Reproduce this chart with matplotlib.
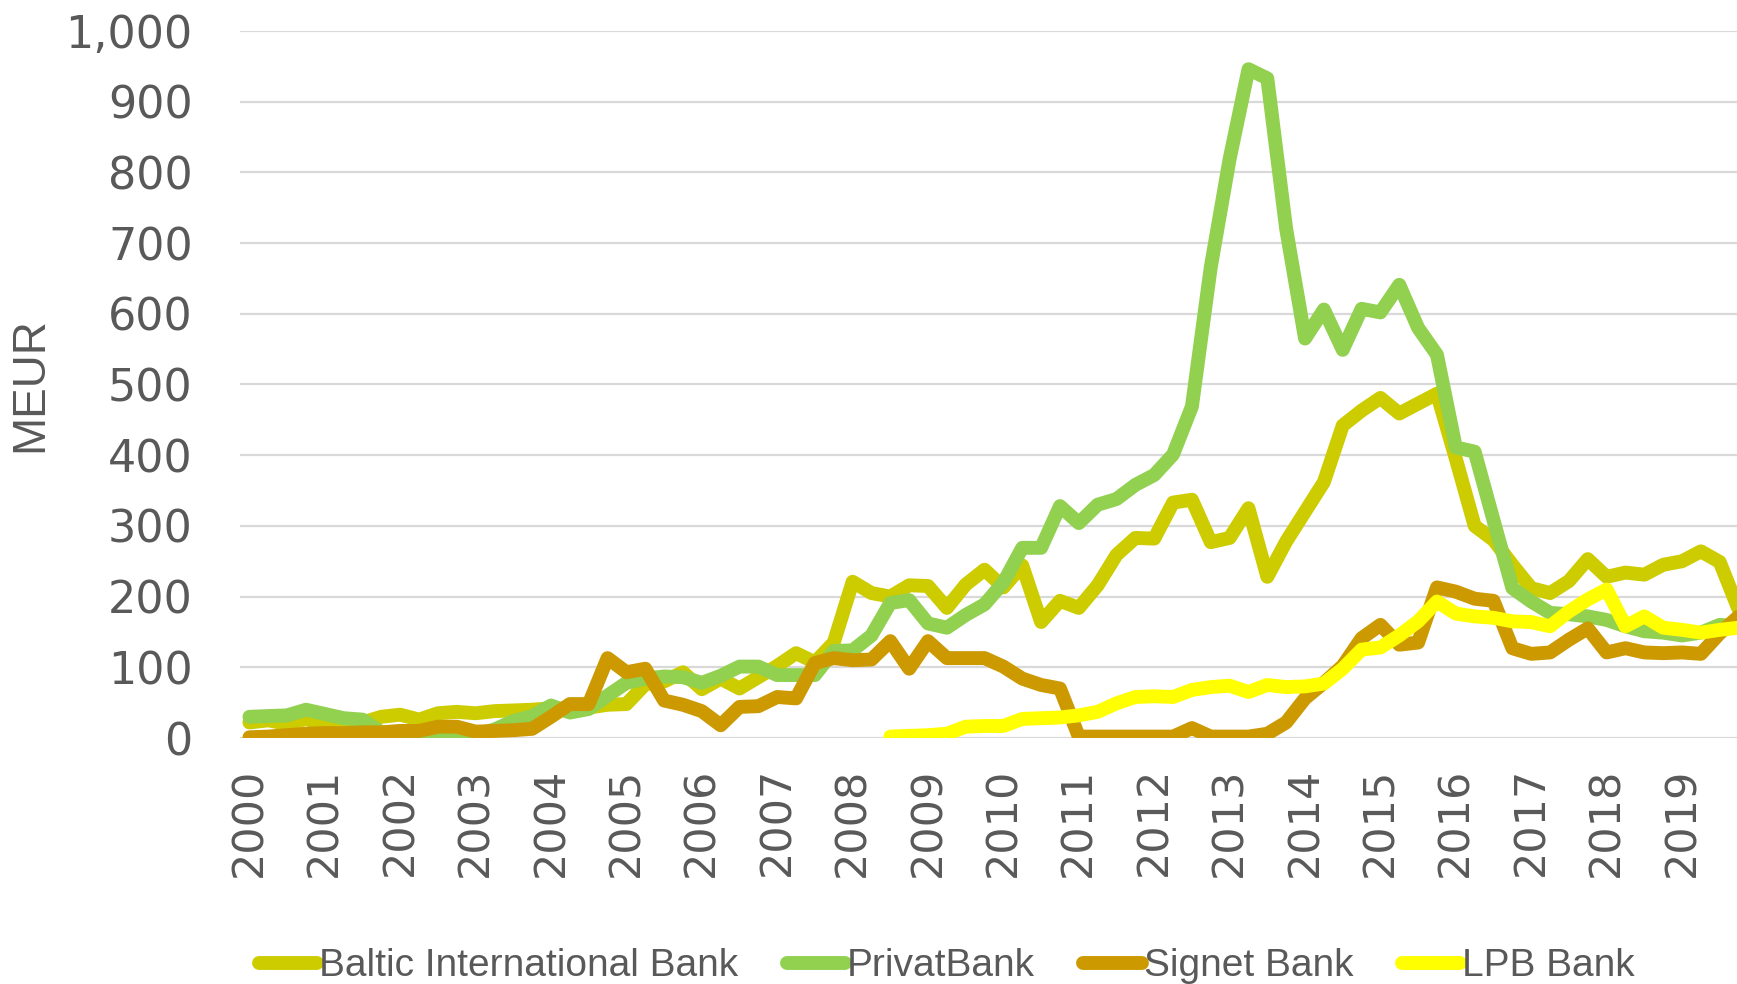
import numpy as np
import matplotlib
matplotlib.use('Agg')
import matplotlib.pyplot as plt
from matplotlib.font_manager import FontProperties

# quarterly values, 2000Q1 .. 2019Q4 (MEUR)
years = list(range(2000, 2020))

baltic = [22, 25, 20, 27, 18, 17, 22, 30, 33, 26, 35, 37, 35, 38, 39, 40,
          42, 41, 43, 47, 48, 76, 80, 93, 69, 84, 70, 86, 102, 120, 107, 135,
          221, 205, 200, 216, 215, 184, 217, 238, 213, 244, 164, 194, 184, 216, 259, 283,
          282, 333, 337, 277, 283, 325, 228, 278, 320, 362, 442, 463, 481, 459, 473, 487,
          395, 300, 280, 245, 212, 205, 222, 253, 228, 234, 231, 245, 250, 264, 249, 182]

privat = [30, 31, 32, 40, 34, 28, 26, 8, 4, 3, 5, 6, 5, 12, 24, 31,
          46, 36, 41, 60, 78, 84, 87, 86, 78, 88, 101, 101, 89, 89, 89, 123,
          124, 145, 191, 195, 162, 156, 174, 189, 220, 269, 269, 328, 304, 330, 338, 358,
          372, 401, 469, 666, 819, 946, 933, 720, 565, 606, 549, 607, 602, 641, 580, 542,
          411, 405, 308, 212, 193, 177, 175, 172, 167, 158, 151, 149, 145, 149, 160, 158]

signet = [1, 2, 4, 6, 7, 7, 8, 8, 10, 10, 16, 16, 9, 10, 11, 13,
          30, 48, 48, 113, 93, 98, 53, 47, 38, 18, 44, 45, 58, 56, 106, 113,
          110, 111, 137, 98, 137, 113, 113, 113, 101, 84, 75, 70, 2, 2, 2, 2,
          2, 2, 14, 2, 2, 2, 6, 22, 56, 78, 102, 141, 160, 132, 135, 213,
          207, 197, 194, 127, 119, 121, 139, 155, 121, 127, 121, 120, 121, 119, 148, 172]

lpb = [None] * 34 + [2, 3, 4, 6, 16, 17, 17, 27, 28, 29, 32, 37, 49, 58,
                     59, 58, 68, 72, 74, 65, 75, 72, 73, 77, 98, 125, 128, 145, 165, 193,
                     176, 172, 170, 165, 164, 158, 179, 196, 210, 158, 172, 156, 153, 149, 153, 156]

names = ['Baltic International Bank', 'PrivatBank', 'Signet Bank', 'LPB Bank']
colors = ['#CCCC00', '#92D050', '#CC9900', '#FFFF00']

plt.rcParams['font.family'] = ['DejaVu Sans']
narrow = ['Liberation Sans', 'DejaVu Sans']

fig = plt.figure(figsize=(17.37, 9.84), dpi=100)
ax = fig.add_axes([240 / 1737, 0.25, 1508 / 1737, 0.7185])

x = np.arange(len(baltic))
series = [baltic, privat, signet, lpb]
for vals, name, col in zip(series, names, colors):
    y = np.array([np.nan if v is None else v for v in vals], dtype=float)
    ax.plot(x, y, color=col, lw=10, label=name,
            solid_capstyle='round', solid_joinstyle='round')

ax.set_xlim(-0.5, len(baltic) - 0.5)
ax.set_ylim(0, 1000)
ax.set_yticks(np.arange(0, 1001, 100))
ax.yaxis.set_major_formatter(matplotlib.ticker.FuncFormatter(lambda v, p: f'{int(v):,}'))
ax.set_xticks(np.arange(0, len(baltic), 4))
ax.set_xticklabels([str(yr) for yr in years], rotation=90, va='top', ha='center')
ax.tick_params(axis='y', length=0, labelsize=32, colors='#595959', pad=34)
ax.tick_params(axis='x', length=0, labelsize=31, colors='#595959', pad=21)
ax.grid(axis='y', color='#D9D9D9', lw=1.6)
ax.set_axisbelow(True)
for s in ax.spines.values():
    s.set_visible(False)

ax.set_ylabel('MEUR', fontsize=33, color='#595959', family=narrow, labelpad=0)
ax.yaxis.set_label_coords(-188 / 1508, 0.5)

leg = fig.legend(loc='center', bbox_to_anchor=(0.545, 0.018), ncol=4, frameon=False,
                 prop=FontProperties(family=narrow, size=28),
                 handlelength=1.5, handletextpad=0.05, columnspacing=1.25)
for t in leg.get_texts():
    t.set_color('#595959')

fig.savefig('out.png', dpi=100)
